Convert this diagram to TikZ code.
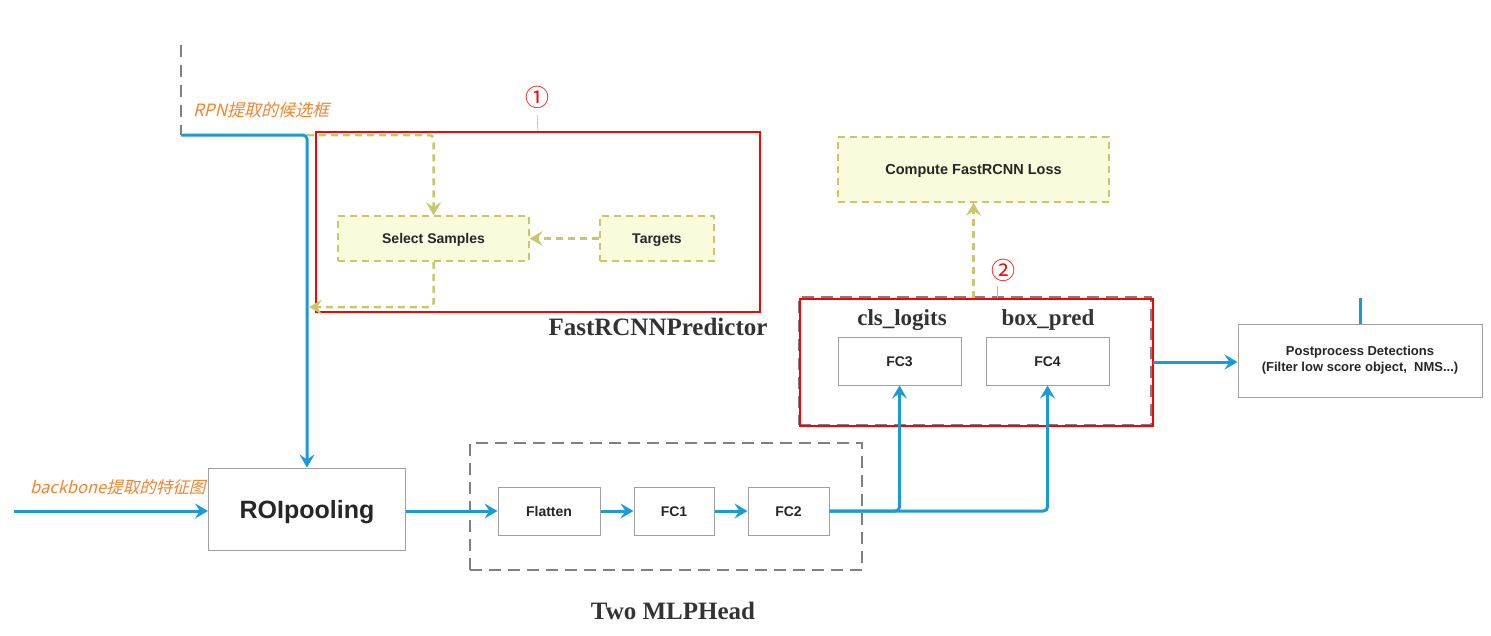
\documentclass[tikz,border=0pt]{standalone}
\usepackage{fontspec}
\setmainfont{Liberation Serif}
\setsansfont{Liberation Sans}
\newfontfamily\cjkit[FakeSlant=0.25]{Noto Sans CJK SC}
\newfontfamily\cjk{Noto Sans CJK SC}
\usetikzlibrary{arrows.meta}
\definecolor{myblue}{HTML}{1B9AD6}
\definecolor{myorange}{HTML}{F5832B}
\definecolor{dashol}{HTML}{C8C86A}
\definecolor{lyel}{HTML}{FAFADC}
\definecolor{gbord}{HTML}{A0A0A0}
\definecolor{gdash}{HTML}{808080}
\definecolor{thinblue}{HTML}{9DB8D8}
\tikzset{
  bl/.style={draw=myblue, line width=3pt, rounded corners=4pt},
  blarr/.style={bl, -{Stealth[length=13pt,width=15pt,inset=5pt]}},
  ol/.style={draw=dashol, line width=2.5pt, dash pattern=on 7pt off 5pt, rounded corners=4pt},
  olarr/.style={ol, -{Stealth[length=13pt,width=15pt,inset=5pt]}},
  gbox/.style={draw=gbord, line width=1pt, fill=white, inner sep=0pt},
  ybox/.style={draw=dashol, fill=lyel, line width=1.5pt, dash pattern=on 7pt off 5pt, inner sep=0pt},
  gdashbox/.style={draw=gdash, line width=1.5pt, dash pattern=on 12pt off 7pt, inner sep=0pt},
  redbox/.style={draw=red, line width=1.6pt, inner sep=0pt},
  sfb/.style={font=\sffamily\bfseries\fontsize{#1}{#1}\selectfont, text=black!85, text height=\fpeval{0.72*#1}pt, text depth=0pt},
  serb/.style={font=\rmfamily\bfseries\fontsize{#1}{#1}\selectfont, text=black!80},
  orlab/.style={font=\cjkit\fontsize{#1}{#1}\selectfont, text=myorange, inner sep=0pt},
  circ/.style={font=\cjk\fontsize{24}{24}\selectfont, text=red, inner sep=0pt},
}
\begin{document}
\begin{tikzpicture}[x=1pt,y=-1pt]
\useasboundingbox (0,0) rectangle (1491,635);
% top-left gray dashed line
\coordinate (gtop) at (181,45);
\coordinate (rpn) at (181,135);
\draw[draw=gdash, line width=1.5pt, dash pattern=on 12pt off 8pt] (gtop) -- (rpn);
\node[orlab=17, anchor=west] (rpnlab) at (193,110) {RPN提取的候选框};

% predictor 1 region
\node[redbox, minimum width=444, minimum height=180] (red1) at (538,222) {};
\node[circ] (c1) at (537,97) {①};
\coordinate (c1b) at (537,115);
\draw[thinblue, line width=0.6pt] (c1b) -- (red1.north);
\node[ybox, minimum width=191, minimum height=45, sfb=14] (ss) at (433.5,238.5) {Select Samples};
\node[ybox, minimum width=114, minimum height=45, sfb=14] (tg) at (657,238.5) {Targets};
\node[serb=25] (fpl) at (658,327) {FastRCNNPredictor};

% ROI pooling
\node[gbox, minimum width=197, minimum height=82, sfb=25] (roi) at (307,509) {ROIpooling};
\coordinate (bbin) at (14,511);
\node[orlab=16.5, anchor=west] (bblab) at (30,487) {backbone提取的特征图};

% MLP head
\node[gdashbox, minimum width=392, minimum height=127] (mlp) at (666,506.5) {};
\node[gbox, minimum width=102, minimum height=48, sfb=14] (fl) at (549,511) {Flatten};
\node[gbox, minimum width=80, minimum height=48, sfb=14] (fc1) at (674,511) {FC1};
\node[gbox, minimum width=81, minimum height=48, sfb=14] (fc2) at (788.5,511) {FC2};
\node[serb=25] (tml) at (673,611) {Two MLPHead};

% predictor 2
\node[gdashbox, minimum width=352, minimum height=128] (pg) at (975,361) {};
\node[redbox, minimum width=353, minimum height=127] (red2) at (976.5,362.5) {};
\node[gbox, minimum width=123, minimum height=48, sfb=14] (fc3) at (899.5,361) {FC3};
\node[gbox, minimum width=123, minimum height=48, sfb=14] (fc4) at (1047.5,361) {FC4};
\node[serb=23] (cls) at (902,320) {cls\_logits};
\node[serb=23] (box) at (1048,320) {box\_pred};
\node[ybox, minimum width=271, minimum height=65, sfb=14.5] (loss) at (973.5,169.5) {Compute FastRCNN Loss};
\node[circ] (c2) at (1003,270) {②};
\coordinate (c2a) at (997,286);
\draw[thinblue, line width=0.6pt] (c2a) -- (c2a |- red2.north);

% postprocess
\node[gbox, minimum width=244, minimum height=73, font=\sffamily\bfseries\fontsize{13}{13}\selectfont, text=black!85, align=center] (post) at (1360,360.5)
  {Postprocess Detections\\[3pt](Filter low score object,\ \ NMS...)};
\coordinate (ptop) at (1360,298);
\draw[bl] (ptop) -- (post.north);

% connectors
\draw[blarr] (rpn) -| (roi.north);
\coordinate (olstart) at (307,135);
\draw[olarr] (olstart) -| (ss.north);
\coordinate (olend) at (309,307);
\draw[olarr] (ss.south) |- (olend);
\draw[olarr] (tg.west) -- (ss.east);
\draw[blarr] (bbin) -- (roi.west |- bbin);
\draw[blarr] (roi.east |- fl.west) -- (fl.west);
\draw[blarr] (fl.east) -- (fc1.west);
\draw[blarr] (fc1.east) -- (fc2.west);
\draw[blarr] (fc2.east) -| (fc3.south);
\draw[blarr] (fc2.east) -| (fc4.south);
\draw[olarr] (loss.south |- red2.north) -- (loss.south);
\coordinate (postin) at (1153,362);
\draw[blarr] (postin) -- (postin -| post.west);
\end{tikzpicture}
\end{document}
